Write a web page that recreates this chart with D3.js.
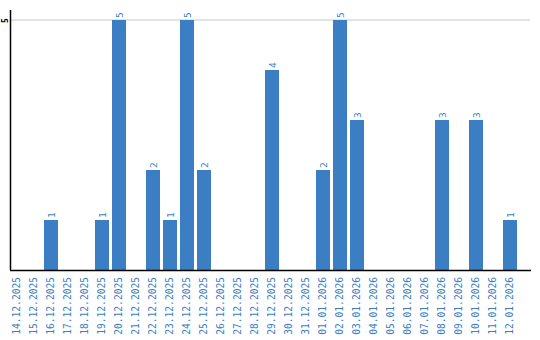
<!DOCTYPE html>
<html>
<head>
<meta charset="utf-8">
<script src="https://cdn.jsdelivr.net/npm/d3@7"></script>
<style>
body{margin:0;background:#fff}
text{font-family:"DejaVu Sans Mono",monospace}
</style>
</head>
<body>
<svg id="chart"></svg>
<script>
var dates=["14.12.2025","15.12.2025","16.12.2025","17.12.2025","18.12.2025","19.12.2025","20.12.2025","21.12.2025","22.12.2025","23.12.2025","24.12.2025","25.12.2025","26.12.2025","27.12.2025","28.12.2025","29.12.2025","30.12.2025","31.12.2025","01.01.2026","02.01.2026","03.01.2026","04.01.2026","05.01.2026","06.01.2026","07.01.2026","08.01.2026","09.01.2026","10.01.2026","11.01.2026","12.01.2026"]
var counts=[0,0,1,0,0,1,5,0,2,1,5,2,0,0,0,4,0,0,2,5,3,0,0,0,0,3,0,3,0,1]
var yTicks=[5]

var screen={width:540,height:340}
var margins={left:10,right:10,top:10,bottom:70}
var graph={
    width:screen.width-margins.left-margins.right,
    height:screen.height-margins.top-margins.bottom}

var svg=d3.select("#chart")
    .attr("width",screen.width)
    .attr("height",screen.height)

var xScale=d3.scaleBand()
    .domain(dates)
    .range([0,507])
    .paddingInner(3/17)
    .paddingOuter(0)
var yScale=d3.scaleLinear()
    .domain([0,5.2])
    .range([graph.height,0])

var target=svg.append("g")
    .attr("transform","translate("+margins.left+","+margins.top+")")

//gridline
target.selectAll("line.grid")
    .data(yTicks)
    .enter()
    .append("line")
    .attr("x1",1)
    .attr("x2",graph.width)
    .attr("y1",function(d){return yScale(d)})
    .attr("y2",function(d){return yScale(d)})
    .attr("stroke","#c8c8c8")
    .attr("stroke-width",1)

var data=dates.map(function(d,i){return {date:d,value:counts[i]}})

//bars
target.selectAll("rect")
    .data(data.filter(function(d){return d.value>0}))
    .enter()
    .append("rect")
    .attr("x",function(d){return xScale(d.date)})
    .attr("width",xScale.bandwidth())
    .attr("y",function(d){return yScale(d.value)})
    .attr("height",function(d){return graph.height-yScale(d.value)})
    .attr("fill","#3b7ec3")

//value labels
target.selectAll("text.val")
    .data(data.filter(function(d){return d.value>0}))
    .enter()
    .append("text")
    .classed("val",true)
    .text(function(d){return d.value})
    .attr("transform",function(d){
        return "translate("+(xScale(d.date)+xScale.bandwidth()/2+3.5)+","+(yScale(d.value)-2)+") rotate(-90)"})
    .attr("fill","#3b7ec3")
    .attr("font-size","9.5px")

//axes
var xAxis=d3.axisBottom(xScale).tickSize(0).tickPadding(0)
var yAxis=d3.axisLeft(yScale).tickValues(yTicks).tickFormat(d3.format("d")).tickSize(0)

var gx=target.append("g")
    .attr("transform","translate(0,"+graph.height+")")
    .call(xAxis)
gx.select(".domain").remove()
gx.selectAll("text")
    .attr("transform","rotate(-90)")
    .attr("text-anchor","end")
    .attr("x",-7)
    .attr("y",0)
    .attr("dy","0.35em")
    .attr("fill","#3b7ec3")
    .attr("font-size","9.6px")
    .attr("font-family","DejaVu Sans Mono")

var gy=target.append("g")
    .call(yAxis)
gy.select(".domain").remove()
gy.selectAll("text")
    .attr("transform","rotate(-90)")
    .attr("text-anchor","middle")
    .attr("x",0)
    .attr("y",-2)
    .attr("dy","0")
    .attr("fill","#000")
    .attr("font-size","8px")
    .attr("font-family","DejaVu Sans Mono")
    .attr("font-weight","bold")

target.append("line")
    .attr("x1",0.5).attr("x2",0.5)
    .attr("y1",0).attr("y2",graph.height)
    .attr("stroke","#000").attr("stroke-width",1.5)
target.append("line")
    .attr("x1",0).attr("x2",graph.width+1)
    .attr("y1",graph.height+0.5).attr("y2",graph.height+0.5)
    .attr("stroke","#000").attr("stroke-width",1.5)
</script>
</body>
</html>
